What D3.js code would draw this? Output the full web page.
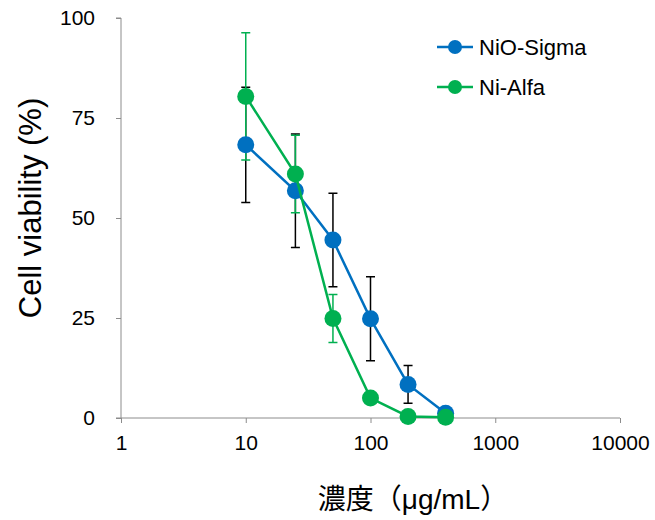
<!DOCTYPE html>
<html>
<head>
<meta charset="utf-8">
<script src="https://cdn.jsdelivr.net/npm/d3@7"></script>
<style>
  html, body { margin: 0; padding: 0; background: #fff; }
  svg { display: block; font-family: "Liberation Sans", Arial, "Noto Sans CJK JP", sans-serif; }
</style>
</head>
<body>
<svg id="chart" width="655" height="520"></svg>
<script>
// Concentrations (µg/mL) and viability readings for each material
const concentrations = [10, 25, 50, 100, 200, 400];
const nioSigma = [68.3, 56.8, 44.5, 24.8, 8.4, 1.2];
const nioSigmaErr = [14.4, 14.2, 11.7, 10.5, 4.7, 0];
const niAlfa = [80.4, 61.0, 24.9, 5.0, 0.4, 0.2];
const niAlfaErr = [15.9, 9.7, 6.0, 0, 0, 0];
const seriesNames = ["NiO-Sigma", "Ni-Alfa"];
const xTicks = [1, 10, 100, 1000, 10000];
const yTicks = [0, 25, 50, 75, 100];

const series = [
  { name: seriesNames[0], values: nioSigma, err: nioSigmaErr, color: "#0070C0", errColor: "#000000" },
  { name: seriesNames[1], values: niAlfa, err: niAlfaErr, color: "#00B050", errColor: "#00B050" }
];

const svg = d3.select("#chart");
const x = d3.scaleLog().domain([1, 10000]).range([121, 620]);
const y = d3.scaleLinear().domain([0, 100]).range([418, 18]);
const axisColor = "#8c8c8c";

// Y axis
const yAxis = svg.append("g")
  .attr("transform", `translate(${x(1)},0)`)
  .call(d3.axisLeft(y).tickValues(yTicks).tickSize(5).tickPadding(21).tickFormat(d3.format("d")));
yAxis.select(".domain").attr("stroke", axisColor).attr("d", `M-5,${y(100)}H0V${y(0)}`);
yAxis.selectAll(".tick line").attr("stroke", axisColor);
yAxis.selectAll(".tick text").attr("font-size", 21).attr("fill", "#000")
  .attr("font-family", "Liberation Sans, Arial, sans-serif");

// X axis
const xAxis = svg.append("g")
  .attr("transform", `translate(0,${y(0)})`)
  .call(d3.axisBottom(x).tickValues(xTicks).tickSize(5).tickPadding(12).tickFormat(d3.format("d")));
xAxis.select(".domain").attr("stroke", axisColor).attr("d", `M${x(1) - 5},0H${x(10000)}`);
xAxis.selectAll(".tick line").attr("stroke", axisColor);
xAxis.selectAll(".tick text").attr("font-size", 21).attr("fill", "#000")
  .attr("font-family", "Liberation Sans, Arial, sans-serif");

// Error bars first, so lines and markers sit on top
const capHalf = 4.5;
series.forEach(s => {
  const g = svg.append("g").attr("stroke", s.errColor).attr("stroke-width", 1.5).attr("fill", "none");
  concentrations.forEach((c, i) => {
    if (!s.err[i]) return;
    const cx = x(c), top = y(s.values[i] + s.err[i]), bot = y(s.values[i] - s.err[i]);
    g.append("path").attr("d",
      `M${cx},${top}V${bot}M${cx - capHalf},${top}H${cx + capHalf}M${cx - capHalf},${bot}H${cx + capHalf}`);
  });
});

// Lines and markers
const line = d3.line().x((d, i) => x(concentrations[i])).y(d => y(d));
series.forEach(s => {
  svg.append("path").datum(s.values)
    .attr("d", line).attr("fill", "none")
    .attr("stroke", s.color).attr("stroke-width", 2.5);
  svg.append("g").selectAll("circle").data(s.values).join("circle")
    .attr("cx", (d, i) => x(concentrations[i])).attr("cy", d => y(d))
    .attr("r", 8.5).attr("fill", s.color);
});

// Legend
const legend = svg.append("g");
series.forEach((s, i) => {
  const ly = 47 + i * 40;
  legend.append("line").attr("x1", 437).attr("x2", 473).attr("y1", ly).attr("y2", ly)
    .attr("stroke", s.color).attr("stroke-width", 2.5);
  legend.append("circle").attr("cx", 455).attr("cy", ly).attr("r", 7).attr("fill", s.color);
  legend.append("text").attr("x", 479).attr("y", ly + 8)
    .attr("font-size", 22).attr("fill", "#000").text(s.name);
});

// Axis titles
svg.append("text")
  .attr("transform", `translate(41,${208}) rotate(-90)`)
  .attr("text-anchor", "middle").attr("font-size", 31).attr("fill", "#000")
  .text("Cell viability (%)");

svg.append("text")
  .attr("x", 413).attr("y", 509).attr("text-anchor", "middle")
  .attr("font-size", 28).attr("fill", "#000")
  .text("濃度（μg/mL）");
</script>
</body>
</html>
